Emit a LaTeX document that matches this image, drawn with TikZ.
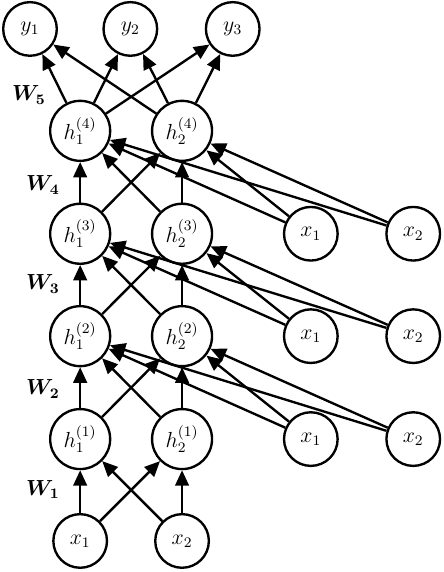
\documentclass[tikz,border=0pt]{standalone}
\usepackage{amsmath}
\usetikzlibrary{arrows.meta}

\tikzset{
  unit/.style={circle, draw, line width=1.3pt, fill=white, minimum size=33pt, inner sep=0pt, font=\large},
  io/.style={circle, draw, line width=1.3pt, fill=white, minimum size=29.5pt, inner sep=0pt, font=\large},
  wlabel/.style={font=\large},
  wire/.style={line width=1.3pt, -{Triangle[length=8.5pt,width=7.5pt]}},
}

\begin{document}
\begin{tikzpicture}
\useasboundingbox (0,0) rectangle (8.585,11.06);

% Outputs
\node[io] (y1) at (0.58, 10.50) {$y_1$};
\node[io] (y2) at (2.52, 10.50) {$y_2$};
\node[io] (y3) at (4.50, 10.50) {$y_3$};

% Hidden layers
\node[unit] (h41) at (1.55, 8.53) {$h_1^{(4)}$};
\node[unit] (h42) at (3.52, 8.53) {$h_2^{(4)}$};
\node[unit] (h31) at (1.55, 6.54) {$h_1^{(3)}$};
\node[unit] (h32) at (3.52, 6.54) {$h_2^{(3)}$};
\node[unit] (h21) at (1.55, 4.56) {$h_1^{(2)}$};
\node[unit] (h22) at (3.52, 4.56) {$h_2^{(2)}$};
\node[unit] (h11) at (1.55, 2.57) {$h_1^{(1)}$};
\node[unit] (h12) at (3.52, 2.57) {$h_2^{(1)}$};

% Inputs
\node[io] (x1) at (1.55, 0.60) {$x_1$};
\node[io] (x2) at (3.52, 0.60) {$x_2$};
\node[io] (xa1) at (6.01, 2.57) {$x_1$};
\node[io] (xa2) at (7.99, 2.57) {$x_2$};
\node[io] (xb1) at (6.01, 4.56) {$x_1$};
\node[io] (xb2) at (7.99, 4.56) {$x_2$};
\node[io] (xc1) at (6.01, 6.54) {$x_1$};
\node[io] (xc2) at (7.99, 6.54) {$x_2$};

% Weight labels
\node[wlabel] (w5) at (0.56, 9.22) {$\boldsymbol{W_5}$};
\node[wlabel] (w4) at (0.83, 7.48) {$\boldsymbol{W_4}$};
\node[wlabel] (w3) at (0.83, 5.57) {$\boldsymbol{W_3}$};
\node[wlabel] (w2) at (0.83, 3.54) {$\boldsymbol{W_2}$};
\node[wlabel] (w1) at (0.83, 1.60) {$\boldsymbol{W_1}$};

% W1
\draw[wire] (x1) -- (h11);
\draw[wire] (x1) -- (h12);
\draw[wire] (x2) -- (h11);
\draw[wire] (x2) -- (h12);

% W2
\draw[wire] (h11) -- (h21);
\draw[wire] (h11) -- (h22);
\draw[wire] (h12) -- (h21);
\draw[wire] (h12) -- (h22);
\draw[wire] (xa1) -- (h21);
\draw[wire] (xa1) -- (h22);
\draw[wire] (xa2) -- (h21);
\draw[wire] (xa2) -- (h22);

% W3
\draw[wire] (h21) -- (h31);
\draw[wire] (h21) -- (h32);
\draw[wire] (h22) -- (h31);
\draw[wire] (h22) -- (h32);
\draw[wire] (xb1) -- (h31);
\draw[wire] (xb1) -- (h32);
\draw[wire] (xb2) -- (h31);
\draw[wire] (xb2) -- (h32);

% W4
\draw[wire] (h31) -- (h41);
\draw[wire] (h31) -- (h42);
\draw[wire] (h32) -- (h41);
\draw[wire] (h32) -- (h42);
\draw[wire] (xc1) -- (h41);
\draw[wire] (xc1) -- (h42);
\draw[wire] (xc2) -- (h41);
\draw[wire] (xc2) -- (h42);

% W5
\draw[wire] (h41) -- (y1);
\draw[wire] (h41) -- (y2);
\draw[wire] (h41) -- (y3);
\draw[wire] (h42) -- (y1);
\draw[wire] (h42) -- (y2);
\draw[wire] (h42) -- (y3);

\end{tikzpicture}
\end{document}
